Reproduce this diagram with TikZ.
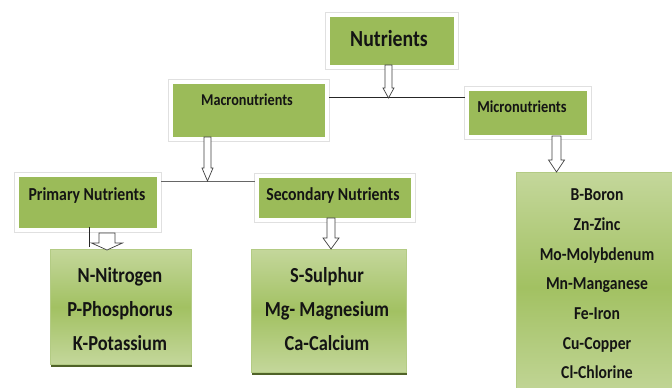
\documentclass[tikz,border=0pt]{standalone}
\usepackage{fontspec}
\setmainfont{Carlito}[FakeStretch=0.86]
\usetikzlibrary{shadows}
\definecolor{ogreen}{HTML}{9BBB59}
\definecolor{lgreen}{HTML}{C4D79B}
\definecolor{mgreen}{HTML}{A2C162}
\definecolor{dgreen}{HTML}{4F6228}
\definecolor{edgegreen}{HTML}{B3CB84}
\tikzset{
  hbox/.style={fill=ogreen, draw=white, line width=4pt, inner sep=0pt,
    anchor=north west,
    drop shadow={shadow xshift=1.5pt, shadow yshift=-2.5pt, fill=black!40, opacity=0.5},
    preaction={draw=black!12, line width=5.2pt}},
  lbox/.style={top color=lgreen, bottom color=lgreen, middle color=mgreen,
    draw=edgegreen, line width=0.8pt, inner sep=0pt, anchor=north west,
    drop shadow={shadow xshift=0.8pt, shadow yshift=-3pt, fill=dgreen, opacity=1}},
  htxt/.style={font=\bfseries, text=black!92, inner sep=0pt},
  ltxt/.style={font=\bfseries, text=black!92, inner sep=0pt, align=center},
  blockarr/.style={draw=black!75, fill=white, line width=0.7pt, line join=miter},
  link/.style={draw=black!85, line width=1pt},
}
\newcommand\blockarrow[6]{%
  \draw[blockarr] (#1-#4,#2) -- (#1+#4,#2) -- (#1+#4,#3-#6) -- (#1+#5,#3-#6)
    -- (#1,#3) -- (#1-#5,#3-#6) -- (#1-#4,#3-#6) -- cycle;}
\begin{document}
\begin{tikzpicture}[x=1pt,y=-1pt]
\useasboundingbox (0,0) rectangle (672,388);
\clip (0,0) rectangle (672,388);
\fill[white] (0,0) rectangle (672,388);

% heading boxes (inner green size = measured)
\node[hbox, minimum width=128pt, minimum height=52pt] (nut) at (326,13) {};
\node[htxt, font=\bfseries\fontsize{23}{27}\selectfont] (nutT) at (389,39) {Nutrients};

\node[hbox, minimum width=156pt, minimum height=57pt] (mac) at (169,80) {};
\node[htxt, font=\bfseries\fontsize{16.5}{20}\selectfont] (macT) at (247,100) {Macronutrients};

\node[hbox, minimum width=122pt, minimum height=48pt] (mic) at (465,87) {};
\node[htxt, font=\bfseries\fontsize{16.7}{20}\selectfont] (micT) at (522,107) {Micronutrients};

\node[hbox, minimum width=142pt, minimum height=55pt] (pri) at (15,173) {};
\node[htxt, font=\bfseries\fontsize{18.3}{22}\selectfont] (priT) at (87,196) {Primary Nutrients};

\node[hbox, minimum width=156pt, minimum height=44pt] (sec) at (255,174) {};
\node[htxt, font=\bfseries\fontsize{18.3}{22}\selectfont] (secT) at (333,196) {Secondary Nutrients};

% list boxes
\node[lbox, minimum width=141pt, minimum height=115pt] (pl) at (50,249) {};
\node[ltxt, font=\bfseries\fontsize{21.4}{34}\selectfont] (plT) at (120,309) {N-Nitrogen\\P-Phosphorus\\K-Potassium};

\node[lbox, minimum width=155pt, minimum height=123pt] (sl) at (251,249) {};
\node[ltxt, font=\bfseries\fontsize{21.4}{34}\selectfont] (slT) at (327,309) {S-Sulphur\\Mg- Magnesium\\Ca-Calcium};

\node[lbox, minimum width=170pt, minimum height=230pt] (ml) at (516,172) {};
\node[ltxt, font=\bfseries\fontsize{18.2}{29.7}\selectfont] (mlT) at (597,284) {B-Boron\\Zn-Zinc\\Mo-Molybdenum\\Mn-Manganese\\Fe-Iron\\Cu-Copper\\Cl-Chlorine};

% connector lines
\draw[link] (mac.east |- 0,97) -- (mic.west |- 0,97);
\draw[link, draw=black!60] (pri.east |- 0,181) -- (sec.west |- 0,181);
\draw[link] (89,227) -- (89,247);

% block arrows: x, top, tip, shaft half, head half, head length
\blockarrow{388.5}{65}{98}{3.5}{5.5}{10}
\blockarrow{207.5}{137}{181}{3.5}{5.5}{13}
\blockarrow{331}{218}{249}{4}{8}{11}
\blockarrow{556.5}{136}{172}{4.5}{8}{12}
\blockarrow{107}{233}{250}{8}{15.5}{7}
\end{tikzpicture}
\end{document}
